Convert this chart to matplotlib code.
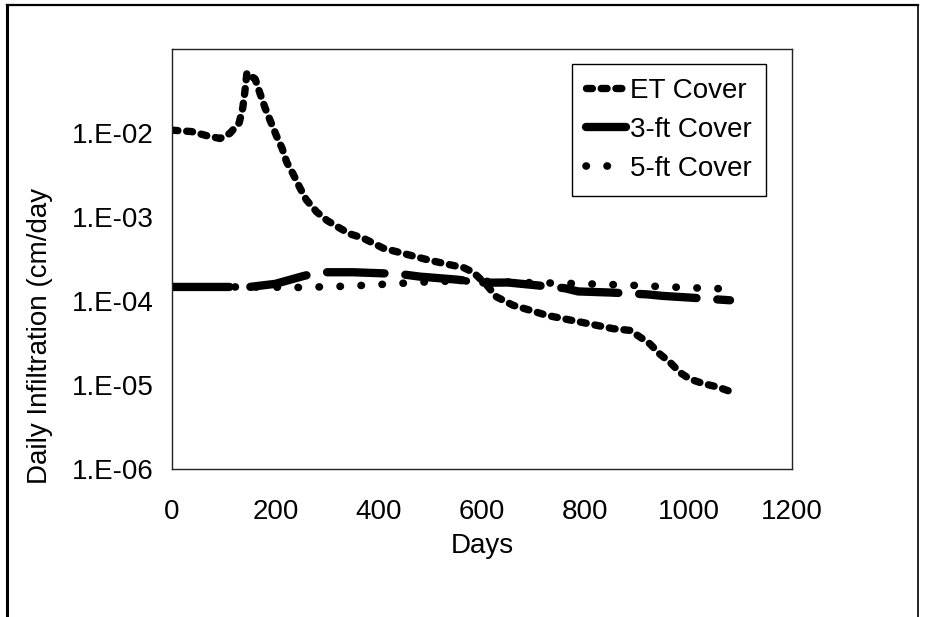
# %% Imports

import numpy as np
import matplotlib
matplotlib.use('Agg')
import matplotlib.pyplot as plt
from matplotlib.lines import Line2D
from matplotlib.ticker import FixedLocator, NullLocator

# %% Data

days_et = [0, 38, 67, 93, 112, 130, 137, 141, 145, 152, 161, 170, 180, 191, 203, 213,
           222, 235, 248, 260, 280, 300, 321, 344, 370, 409, 474, 499, 538, 564, 583,
           609, 628, 660, 693, 725, 757, 790, 822, 854, 886, 906, 925, 944, 964, 983,
           1002, 1028, 1055, 1080]
vals_et = [1.08e-2, 1.04e-2, 9.3e-3, 8.6e-3, 9.9e-3, 1.32e-2, 2.0e-2, 3.1e-2, 5.2e-2,
           4.8e-2, 4.4e-2, 3.0e-2, 2.0e-2, 1.36e-2, 9.0e-3, 6.6e-3, 4.5e-3, 3.2e-3,
           2.2e-3, 1.6e-3, 1.15e-3, 9.1e-4, 7.6e-4, 6.3e-4, 5.6e-4, 4.25e-4, 3.34e-4,
           3.05e-4, 2.7e-4, 2.5e-4, 2.2e-4, 1.55e-4, 1.12e-4, 8.9e-5, 7.76e-5, 6.76e-5,
           6.17e-5, 5.62e-5, 5.13e-5, 4.68e-5, 4.47e-5, 3.72e-5, 3.09e-5, 2.34e-5,
           1.86e-5, 1.41e-5, 1.18e-5, 1.04e-5, 9.5e-6, 8.4e-6]

days_3ft = [0, 130, 150, 200, 250, 273, 300, 350, 440, 480, 550, 606, 650, 700, 760,
            786, 850, 919, 950, 1000, 1080]
vals_3ft = [1.47e-4, 1.47e-4, 1.47e-4, 1.6e-4, 1.95e-4, 2.12e-4, 2.2e-4, 2.2e-4, 2.1e-4,
            1.95e-4, 1.8e-4, 1.65e-4, 1.66e-4, 1.55e-4, 1.42e-4, 1.3e-4, 1.26e-4,
            1.2e-4, 1.15e-4, 1.1e-4, 1.02e-4]

days_5ft = [0, 150, 200, 248, 300, 339, 400, 426, 486, 550, 600, 650, 700, 750, 786,
            850, 900, 950, 1000, 1050, 1093]
vals_5ft = [1.47e-4, 1.47e-4, 1.46e-4, 1.45e-4, 1.48e-4, 1.5e-4, 1.57e-4, 1.6e-4,
            1.68e-4, 1.74e-4, 1.72e-4, 1.68e-4, 1.65e-4, 1.63e-4, 1.61e-4, 1.57e-4,
            1.53e-4, 1.48e-4, 1.44e-4, 1.41e-4, 1.38e-4]

x_ticks = [0, 200, 400, 600, 800, 1000, 1200]
y_ticks = [1e-6, 1e-5, 1e-4, 1e-3, 1e-2]
y_tick_labels = ['1.E-06', '1.E-05', '1.E-04', '1.E-03', '1.E-02']

# %% Plot

plt.rcParams['font.family'] = ['Liberation Sans', 'DejaVu Sans']
fs = 20

W, H = 925, 617
fig = plt.figure(figsize=(W / 100, H / 100), dpi=100)
ax = fig.add_axes([172 / W, 1 - 469 / H, 620 / W, 420 / H])

ax.plot(days_et, vals_et, color='black', lw=5.3, dashes=(0.8, 1.2),
        dash_capstyle='round', label='ET Cover')
ax.plot(days_3ft, vals_3ft, color='black', lw=6, dashes=(6.9, 2.5),
        dash_capstyle='round', label='3-ft Cover')
ax.plot(days_5ft, vals_5ft, color='black', lw=5.5, dashes=(0.05, 2.7),
        dash_capstyle='round', label='5-ft Cover')

ax.set_yscale('log')
ax.set_xlim(0, 1200)
ax.set_ylim(1e-6, 1e-1)
ax.xaxis.set_major_locator(FixedLocator(x_ticks))
ax.yaxis.set_major_locator(FixedLocator(y_ticks))
ax.yaxis.set_minor_locator(NullLocator())
ax.set_yticklabels(y_tick_labels)
ax.tick_params(axis='both', length=0, labelsize=fs)
ax.tick_params(axis='x', pad=21.5)
ax.tick_params(axis='y', pad=13)
for s in ax.spines.values():
    s.set_linewidth(1.0)
    s.set_color('#222222')

ax.set_xlabel('Days', fontsize=fs, labelpad=6)
fig.text(40 / W, 1 - 336 / H, 'Daily Infiltration (cm/day', rotation=90,
         ha='center', va='center', fontsize=fs)

leg = ax.legend(loc='upper left', bbox_to_anchor=(572 / W, 1 - 64 / H),
                bbox_transform=fig.transFigure, borderaxespad=0, fontsize=fs,
                frameon=True, fancybox=False, framealpha=1, edgecolor='black',
                handlelength=1.45, handletextpad=0.15, labelspacing=0.47,
                borderpad=0.5)
leg.get_frame().set_linewidth(1.0)

# outer chart frame (left, top, right)
fig.add_artist(Line2D([7 / W, 7 / W], [0, 1 - 5 / H], color='black', lw=2.2,
                      transform=fig.transFigure))
fig.add_artist(Line2D([7 / W, 918 / W], [1 - 5 / H, 1 - 5 / H], color='black',
                      lw=1.6, transform=fig.transFigure))
fig.add_artist(Line2D([918 / W, 918 / W], [0, 1 - 5 / H], color='black', lw=1.2,
                      transform=fig.transFigure))

fig.savefig('out.png', dpi=100, facecolor='white')
